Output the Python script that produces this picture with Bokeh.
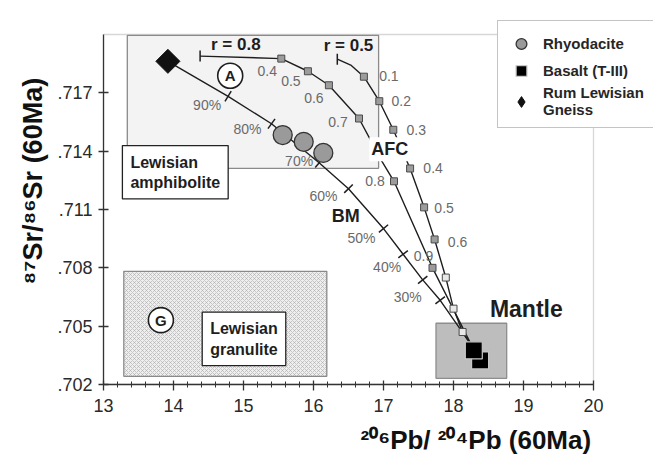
import math
from bokeh.plotting import figure
from bokeh.models import (Range1d, FixedTicker, Label, Legend, LegendItem, ColumnDataSource,
                          BoxAnnotation, Title)
from bokeh.core.properties import value
from bokeh.embed import file_html
from bokeh.resources import INLINE

FONT = "Liberation Sans"

# ---------------- data ----------------
x_ticks = [13, 14, 15, 16, 17, 18, 19, 20]
y_ticks = [0.702, 0.705, 0.708, 0.711, 0.714, 0.717]
y_tick_labels = [".702", ".705", ".708", ".711", ".714", ".717"]

rhyo_pb = [15.56, 15.86, 16.14]
rhyo_sr = [0.71483, 0.71448, 0.71391]
basalt_pb = [18.38, 18.29]
basalt_sr = [0.70324, 0.70376]
gneiss_pb = [13.92]
gneiss_sr = [0.71862]

# bulk mixing (BM) curve: gneiss -> tick marks -> basalt end
bm_tick_pb = [14.78, 15.40, 16.08, 16.50, 17.00, 17.28, 17.56, 17.81]
bm_tick_sr = [0.71682, 0.71541, 0.71340, 0.71207, 0.71002, 0.70870, 0.70738, 0.70633]
bm_tick_text = ["90%", "80%", "70%", "60%", "50%", "40%", "30%", ""]
bm_end_pb = [18.26]
bm_end_sr = [0.70400]

# AFC curve r = 0.8
afc8_pb = [14.38, 15.54, 15.92, 16.22, 16.65, 16.98, 17.15, 17.70, 18.26]
afc8_sr = [0.71889, 0.71876, 0.71811, 0.71739, 0.71568, 0.71346, 0.71245, 0.70800, 0.70400]
afc8_f_pb = [15.54, 15.92, 16.22, 16.65, 17.15, 17.70]
afc8_f_sr = [0.71876, 0.71811, 0.71739, 0.71568, 0.71245, 0.70800]
afc8_f_text = ["0.4", "0.5", "0.6", "0.7", "0.8", "0.9"]

# AFC curve r = 0.5
afc5_pb = [16.34, 16.54, 16.72, 16.94, 17.14, 17.38, 17.58, 17.73, 17.89, 18.00, 18.13, 18.26]
afc5_sr = [0.71873, 0.71841, 0.71783, 0.71657, 0.71510, 0.71311, 0.71111, 0.70946, 0.70750, 0.70590, 0.70470, 0.70400]
afc5_f_pb = [16.72, 16.94, 17.14, 17.38, 17.58, 17.73, 17.89, 18.00, 18.13]
afc5_f_sr = [0.71783, 0.71657, 0.71510, 0.71311, 0.71111, 0.70946, 0.70750, 0.70590, 0.70470]
afc5_f_text = ["0.1", "0.2", "0.3", "0.4", "0.5", "0.6", "", "", ""]

# fields (x range, y range)
amph_pb = [13.34, 16.93]
amph_sr = [0.71312, 0.71995]
gran_pb = [13.29, 16.19]
gran_sr = [0.70242, 0.70782]
mantle_pb = [17.75, 18.76]
mantle_sr = [0.70232, 0.70515]

# ---------------- layout / styles ----------------
X0, X1, Y0, Y1 = 13, 20, 0.702, 0.720          # the chart's own frame
W, H = 653, 466
BL, BB = 103, 82                                 # left / bottom borders
FW, FH = W - BL, H - BB
PX_X = 70.0                                      # px per Pb unit
PX_Y = 19444.4                                   # px per Sr unit
XR_END = X0 + FW / PX_X                          # drawing area reaches the page edge
YR_END = Y0 + FH / PX_Y                          # (room for the legend above / right of the frame)
INK = "#1e1e1e"
GRAY_TXT = "#6a6a6a"

p = figure(width=W, height=H, x_range=Range1d(X0, XR_END), y_range=Range1d(Y0, YR_END),
           output_backend="svg", toolbar_location=None,
           min_border_left=BL, min_border_right=0, min_border_top=0, min_border_bottom=BB)
p.xgrid.visible = False
p.ygrid.visible = False
p.outline_line_color = None
p.background_fill_color = "white"
p.border_fill_color = "white"

# chart frame (top and right edges)
p.add_layout(BoxAnnotation(left=X0, right=X1, bottom=Y0, top=Y1, fill_color=None,
                           line_color="#7a7a7a", line_width=1.3, level="underlay"))

minor = [X0 + 0.2 * i for i in range(36) if i % 5 != 0]
p.xaxis.ticker = FixedTicker(ticks=x_ticks, minor_ticks=minor)
p.yaxis.ticker = FixedTicker(ticks=y_ticks)
p.yaxis.major_label_overrides = dict(zip(y_ticks, y_tick_labels))
p.xaxis.bounds = (X0, X1)
p.yaxis.bounds = (Y0, Y1)
for ax in (p.xaxis[0], p.yaxis[0]):
    ax.axis_line_color = "#333333"
    ax.axis_line_width = 1.3
    ax.major_tick_line_color = "#333333"
    ax.major_tick_line_width = 1.3
    ax.major_label_text_font = FONT
    ax.major_label_text_font_size = "18px"
    ax.major_label_text_color = "#2a2a2a"
p.xaxis.major_tick_in = 4
p.xaxis.major_tick_out = 6
p.xaxis.minor_tick_in = 3
p.xaxis.minor_tick_out = 3
p.xaxis.minor_tick_line_color = "#333333"
p.xaxis.major_label_standoff = 8
p.yaxis.major_tick_in = 5
p.yaxis.major_tick_out = 5
p.yaxis.minor_tick_line_color = None
p.yaxis.major_label_standoff = 6

# axis titles
p.add_layout(Title(text="\u00b2\u2070\u2076Pb/ \u00b2\u2070\u2074Pb (60Ma)", align="left", offset=257,
                   standoff=16, text_font=FONT, text_font_style="bold", text_font_size="26px",
                   text_color="#111111"), "below")
p.add_layout(Title(text="\u2078\u2077Sr/\u2078\u2076Sr (60Ma)", align="left", offset=100,
                   standoff=14, text_font=FONT, text_font_style="bold", text_font_size="27px",
                   text_color="#111111"), "left")

# fields
p.quad(left=[gran_pb[0]], right=[gran_pb[1]], bottom=[gran_sr[0]], top=[gran_sr[1]],
       fill_color="#efefef", hatch_pattern="diagonal_cross", hatch_color="#a9a9a9",
       hatch_scale=4, hatch_weight=0.6, line_color="#8a8a8a", line_width=1.3)
p.quad(left=[amph_pb[0]], right=[amph_pb[1]], bottom=[amph_sr[0]], top=[amph_sr[1]],
       fill_color="#f3f3f3", line_color="#8a8a8a", line_width=1.3)
p.quad(left=[mantle_pb[0]], right=[mantle_pb[1]], bottom=[mantle_sr[0]], top=[mantle_sr[1]],
       fill_color="#bdbdbd", line_color="#8d8d8d", line_width=1.3)

# curves
bm_pb = gneiss_pb + bm_tick_pb + bm_end_pb
bm_sr = gneiss_sr + bm_tick_sr + bm_end_sr
p.line(bm_pb, bm_sr, line_color=INK, line_width=1.4)
p.line(afc8_pb, afc8_sr, line_color=INK, line_width=1.4)
p.line(afc5_pb, afc5_sr, line_color=INK, line_width=1.4)

# BM tick marks, perpendicular to the curve (screen space)
angles = []
for k in range(1, len(bm_pb) - 1):
    dx = (bm_pb[k + 1] - bm_pb[k - 1]) * PX_X
    dy = (bm_sr[k + 1] - bm_sr[k - 1]) * PX_Y
    angles.append(math.atan2(dy, dx) + math.pi / 2)
p.scatter(x=bm_tick_pb, y=bm_tick_sr, marker="dash", size=12, angle=angles,
          line_color=INK, line_width=1.5)
# start brackets of the AFC curves
p.scatter(x=[afc8_pb[0], afc5_pb[0]], y=[afc8_sr[0], afc5_sr[0]], marker="dash", size=11,
          angle=math.pi / 2, line_color=INK, line_width=1.5)

# AFC squares
p.scatter(afc8_f_pb, afc8_f_sr, marker="square", size=7, fill_color="#9c9c9c",
          line_color="#4a4a4a", line_width=1)
afc5_fill = ["#9c9c9c"] * 6 + ["#e8e8e8"] * 3
p.scatter(afc5_f_pb, afc5_f_sr, marker="square", size=7, fill_color=afc5_fill,
          line_color="#4a4a4a", line_width=1)

# samples
r_rhyo = p.scatter(rhyo_pb, rhyo_sr, marker="circle", size=19, fill_color="#9a9a9a",
                   line_color="#333333", line_width=1.3)
r_bas = p.scatter(basalt_pb, basalt_sr, marker="square", size=17, fill_color="black",
                  line_color="#c8c8c8", line_width=1.2)
# diamond drawn under the gneiss symbol; it provides the legend key
r_gn_key = p.scatter(gneiss_pb, gneiss_sr, marker="diamond", size=17, fill_color="#111111",
                     line_color="#111111", line_width=1)
p.scatter(gneiss_pb, gneiss_sr, marker="square", size=17, angle=math.pi / 4,
          fill_color="#111111", line_color="#111111", line_width=1)

# gray number labels
def gray_labels(xs, ys, texts, dxs, dys):
    src = ColumnDataSource(dict(x=xs, y=ys, t=texts, dx=dxs, dy=dys))
    p.text(x="x", y="y", text="t", x_offset="dx", y_offset="dy", source=src,
           text_font=value(FONT), text_font_size="14px", text_color=GRAY_TXT,
           text_align="center", text_baseline="middle")

gray_labels(afc8_f_pb, afc8_f_sr, afc8_f_text,
            [-14, -17, -15, -21, -19, -9], [12, 10, 13, 3, 0, -12])
gray_labels(afc5_f_pb, afc5_f_sr, afc5_f_text,
            [25, 22, 23, 23, 20, 23, 0, 0, 0], [-1, 0, 0, 0, 1, 3, 0, 0, 0])
gray_labels(bm_tick_pb, bm_tick_sr, bm_tick_text,
            [-21, -24, -20, -25, -22, -16, -15, 0], [9, 5, -2, 7, 9, 13, 17, 0])

# bold annotation texts
def bold(x, y, t, size, align="center", baseline="middle", bg=None, pad=0):
    lab = Label(x=x, y=y, text=t, text_font=FONT, text_font_style="bold",
                text_font_size=size, text_color=INK, text_align=align, text_baseline=baseline)
    if bg:
        lab.background_fill_color = bg
        lab.padding = pad
    p.add_layout(lab)

bold(14.89, 0.71947, "r = 0.8", "17px")
bold(16.50, 0.71942, "r = 0.5", "17px")
bold(16.46, 0.71068, "BM", "18px")
bold(17.09, 0.71410, "AFC", "18px", bg="white", pad=2)
bold(18.52, 0.70590, "Mantle", "23px", align="left")

# circled letters
circ_pb = [14.81, 13.82]
circ_sr = [0.71788, 0.70531]
circ_txt = ["A", "G"]
p.scatter(circ_pb, circ_sr, marker="circle", size=25, fill_color="white",
          line_color=INK, line_width=1.6)
p.text(circ_pb, circ_sr, text=circ_txt, text_font=value(FONT), text_font_style="bold",
       text_font_size="15px", text_color=INK, text_align="center", text_baseline="middle")

# field name boxes
for (x, y, t) in [(13.27, 0.71429, "Lewisian\namphibolite"), (14.41, 0.70572, "Lewisian\ngranulite")]:
    p.add_layout(Label(x=x, y=y, text=t, text_font=FONT, text_font_style="bold",
                       text_font_size="16px", text_color=INK, text_align="left",
                       text_baseline="top", background_fill_color="white",
                       border_line_color="#222222", border_line_width=1.3, padding=8))

legend = Legend(items=[LegendItem(label="Rhyodacite", renderers=[r_rhyo]),
                       LegendItem(label="Basalt (T-III)", renderers=[r_bas]),
                       LegendItem(label="Rum Lewisian\nGneiss", renderers=[r_gn_key])],
                location=(394, 256), margin=0, padding=9, spacing=0,
                glyph_width=28, glyph_height=27, label_standoff=8,
                label_text_font=FONT, label_text_font_style="bold",
                label_text_font_size="15px", label_text_color="#262626",
                label_text_line_height=1.3,
                border_line_color="#8a8a8a", border_line_width=1.3,
                background_fill_color="white", background_fill_alpha=1.0)
p.add_layout(legend)

open("out.html", "w").write(file_html(p, INLINE))
